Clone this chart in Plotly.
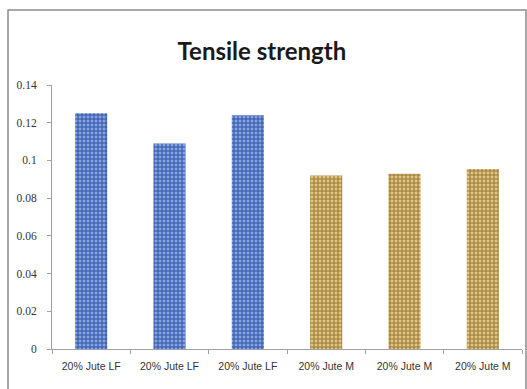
import plotly.graph_objects as go

# Tensile strength of 20% jute composites
categories = ["20% Jute LF", "20% Jute LF", "20% Jute LF",
              "20% Jute M", "20% Jute M", "20% Jute M"]
tensile = [0.125, 0.109, 0.124, 0.092, 0.093, 0.0955]
y_ticks = [0, 0.02, 0.04, 0.06, 0.08, 0.1, 0.12, 0.14]

positions = list(range(len(categories)))
lf_idx = [i for i, c in enumerate(categories) if c.endswith("LF")]
m_idx = [i for i, c in enumerate(categories) if c.endswith("M")]

fig = go.Figure()
fig.add_trace(go.Bar(
    x=[positions[i] for i in lf_idx],
    y=[tensile[i] for i in lf_idx],
    width=0.41,
    marker=dict(
        color="#5f84d0",
        line=dict(width=0),
        pattern=dict(shape="+", size=4, solidity=0.45,
                     fgcolor="#2f52a6", bgcolor="#86a3e0", fillmode="replace"),
    ),
    showlegend=False,
))
fig.add_trace(go.Bar(
    x=[positions[i] for i in m_idx],
    y=[tensile[i] for i in m_idx],
    width=0.41,
    marker=dict(
        color="#cfae6c",
        line=dict(width=0),
        pattern=dict(shape="+", size=4, solidity=0.45,
                     fgcolor="#9a7634", bgcolor="#e0c684", fillmode="replace"),
    ),
    showlegend=False,
))

# outer chart frame
fig.add_shape(type="rect", xref="paper", yref="paper",
              x0=-0.0936, x1=1.0085, y0=-0.17, y1=1.284,
              line=dict(color="#8c8c8c", width=1.5), fillcolor="rgba(0,0,0,0)")

fig.update_layout(
    width=527, height=389,
    margin=dict(l=52, r=5, t=85, b=40),
    paper_bgcolor="white", plot_bgcolor="white",
    title=dict(text="<b>Tensile strength</b>", x=0.497, xanchor="center",
               y=0.867, yanchor="middle",
               font=dict(family="Lato, Open Sans, sans-serif",
                         size=24, color="#1a1a1a")),
    xaxis=dict(
        range=[-0.5, 5.5],
        tickvals=positions, ticktext=categories,
        ticks="", showgrid=False, zeroline=False,
        showline=True, linecolor="#a0a0a0", linewidth=1,
        tickfont=dict(family="Liberation Sans Narrow, Arial Narrow, sans-serif",
                      size=10.5, color="#333333"),
        minor=dict(tickvals=[p - 0.5 for p in positions] + [positions[-1] + 0.5],
                   ticks="outside", ticklen=4, tickcolor="#a0a0a0"),
        ticklabelstandoff=7,
    ),
    yaxis=dict(
        range=[0, 0.14], tickvals=y_ticks,
        ticktext=[f"{v:g}" for v in y_ticks],
        ticks="outside", ticklen=4, tickcolor="#a0a0a0",
        showgrid=False, zeroline=False,
        showline=True, linecolor="#a0a0a0", linewidth=1,
        tickfont=dict(family="Liberation Serif, Times New Roman, serif",
                      size=11.5, color="#333333"),
        ticklabelstandoff=8,
    ),
)

fig.write_html("out.html")
